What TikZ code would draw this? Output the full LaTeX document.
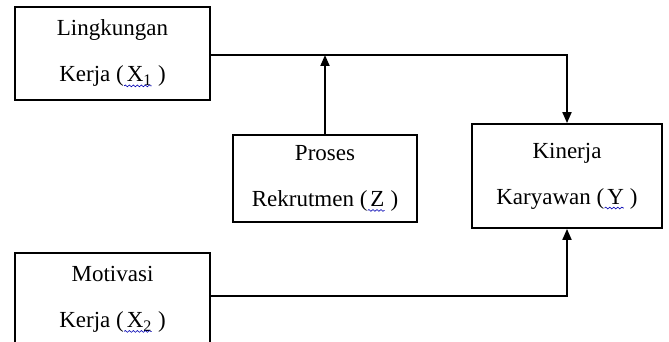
\documentclass[tikz,border=0pt]{standalone}
\usepackage{fontspec}
\setmainfont{Liberation Serif}
\usetikzlibrary{arrows.meta,decorations.pathmorphing}
\tikzset{squig/.style={draw=blue!70!black,line width=0.6pt,
    decorate,decoration={snake,amplitude=0.9pt,segment length=4pt}}}
\newcommand\sqg[1]{\tikz[baseline=(t.base)]{\node[inner sep=0pt,outer sep=0pt,
    minimum width=0pt,minimum height=0pt,draw=none,align=left](t){#1};
  \path[squig] ([yshift=-4pt]t.base west) -- ([yshift=-4pt]t.base east);}}
\begin{document}
\begin{tikzpicture}[x=1pt,y=-1pt,
  box/.style={draw,line width=1.8pt,align=center,inner sep=0pt,
    font=\fontsize{23}{46}\selectfont},
  link/.style={line width=1.8pt,-{Triangle[length=11pt,width=9pt]}}]
\useasboundingbox (0,0) rectangle (669,342);
\node[box,minimum width=195pt,minimum height=93pt] (x1) at (112.5,53.5)
  {Lingkungan\\Kerja (\sqg{\hspace{0.12em}X\textsubscript{1}} )};
\node[box,minimum width=184pt,minimum height=87pt] (z) at (325,178.5)
  {Proses\\Rekrutmen (\sqg{\hspace{0.12em}Z} )};
\node[box,minimum width=190pt,minimum height=104pt] (y) at (567,176)
  {Kinerja\\Karyawan (\sqg{\hspace{0.12em}Y} )};
\node[box,minimum width=195pt,minimum height=93pt,anchor=north] (x2) at (112.5,252)
  {Motivasi\\Kerja (\sqg{\hspace{0.12em}X\textsubscript{2}} )};
\coordinate (j) at (z.north |- 0,55);
\draw[link] (x1.east |- j) -| (y.north);
\draw[link] (z.north) -- (j);
\draw[link] (x2.east |- 0,296) -| (y.south);
\end{tikzpicture}
\end{document}
